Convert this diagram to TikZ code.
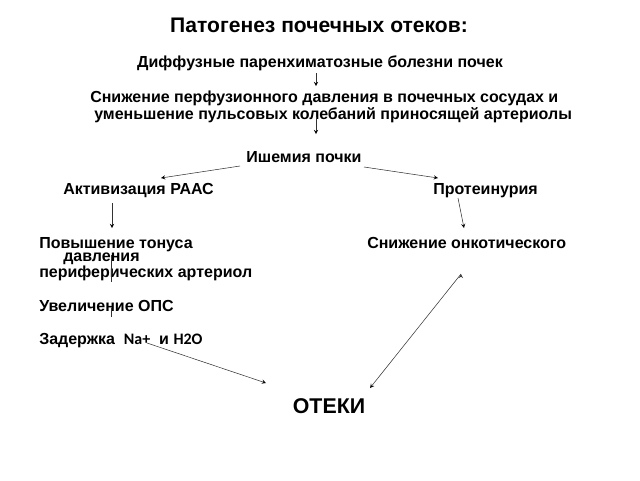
\documentclass[tikz,border=0pt]{standalone}
\usepackage{fontspec}
\setmainfont{Liberation Sans}
\newfontfamily\carlito{Carlito}
\usetikzlibrary{positioning}

\begin{document}
\begin{tikzpicture}
	[x=0.75pt,y=-0.75pt,>=stealth,
	txt/.style={inner sep=0pt,font=\bfseries\fontsize{12}{9}\selectfont},
	arr/.style={->,thin,draw=black!80}]
	\useasboundingbox (0,0) rectangle (640,480);
	% headline and the main chain
	\node[inner sep=0pt,anchor=base,font=\bfseries\fontsize{15.8}{17}\selectfont] (title) at (319,32) {Патогенез почечных отеков:};
	\node[txt,anchor=base] (diff) at (320,67) {Диффузные паренхиматозные болезни почек};
	\node[txt,anchor=north west,align=left] (perf) at (90,91) {Снижение перфузионного давления в почечных сосудах и\\\hspace*{3pt}уменьшение пульсовых колебаний приносящей артериолы};
	\node[txt,anchor=base] (isch) at (304,162) {Ишемия почки};
	\node[txt,anchor=base west] (raas) at (63,194) {Активизация РААС};
	\node[txt,anchor=base west] (prot) at (433,194) {Протеинурия};
	% left branch
	\node[txt,anchor=base west] (tonus) at (39,248) {Повышение тонуса};
	\node[txt,anchor=base west] (davl) at (63,261) {давления};
	\node[txt,anchor=base west] (perif) at (39,277) {периферических артериол};
	\node[txt,anchor=base west] (ops) at (39,311) {Увеличение ОПС};
	\node[txt,anchor=base west] (zad) at (39,344) {Задержка \ {\carlito Na+}\ \ и {\carlito H2O}};
	% right branch
	\node[txt,anchor=base west] (onk) at (367,248) {Снижение онкотического};
	\node[inner sep=0pt,anchor=base,font=\bfseries\fontsize{16}{18}\selectfont] (oteki) at (329,413) {ОТЕКИ};

	\path[arr]
		([shift={(-4,6)}]diff.base) edge ([shift={(-4,19)}]diff.base)
		([shift={(226,26)}]perf.north west) edge ([shift={(12,-28)}]isch.base)
		([shift={(-64,4)}]isch.base) edge ([shift={(98,-16)}]raas.base west)
		([shift={(60,5)}]isch.base) edge ([shift={(5,-16)}]prot.base west)
		([shift={(49,9)}]raas.base west) edge ([shift={(73,-20)}]tonus.base west)
		([shift={(25,4)}]prot.base west) edge ([shift={(97,-20)}]onk.base west)
		([shift={(108,-1)}]zad.base west) edge ([shift={(-63,-30)}]oteki.base)
		([shift={(94,26)}]onk.base west) edge ([shift={(41,-25)}]oteki.base);
	\draw[thin,black!80]
		([shift={(48,-6)}]davl.base west) -- ([shift={(72,5)}]perif.base west)
		([shift={(72,-3)}]ops.base west) -- ([shift={(72,6)}]ops.base west);
\end{tikzpicture}
\end{document}
